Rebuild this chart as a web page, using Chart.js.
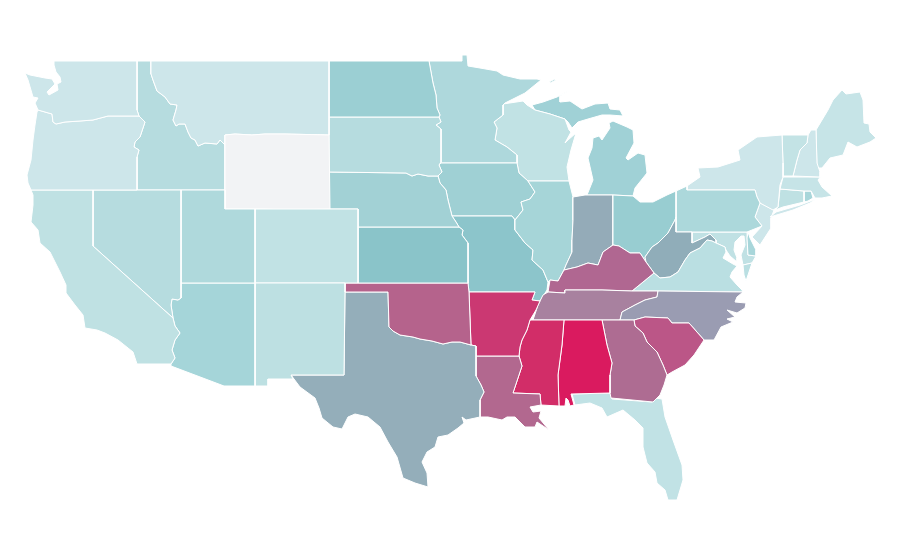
<!DOCTYPE html>
<html>
<head>
<meta charset="utf-8">
<title>US states</title>
<script src="https://cdn.jsdelivr.net/npm/chart.js@4/dist/chart.umd.min.js"></script>
<style>
  html, body { margin: 0; background: #fff; }
  #wrap { width: 900px; height: 560px; }
</style>
</head>
<body>
<div id="wrap"><canvas id="map"></canvas></div>
<script>
// outlines, in map units (x, y)
const washington = [[54,61],[137,61],[137,110],[139,116],[108,116],[93,120],[80,121],[65,122],[56,124],[53,122],[52,114],[38,110],[35,103],[38,98],[33,97],[28,80],[25,73],[30,75],[40,77],[45,78],[52,79],[55,84],[50,89],[47,92],[49,95],[58,90],[57,84],[61,82],[60,77],[56,72],[54,65]];
const oregon = [[37,112],[38,110],[52,114],[53,122],[56,124],[65,122],[80,121],[93,120],[108,116],[139,116],[145,122],[143,128],[140,137],[135,142],[134,147],[139,150],[137,157],[137,190],[31,190],[28,183],[27,175],[31,160],[33,140],[35,125]];
const california = [[31,190],[93,190],[93,246],[173,318],[175,326],[180,333],[175,340],[172,350],[175,358],[171,364],[137,364],[133,352],[118,340],[105,333],[97,330],[85,328],[83,315],[75,305],[66,293],[66,285],[60,272],[55,262],[50,252],[40,243],[38,230],[31,222],[33,205],[33,195]];
const nevada = [[93,190],[181,190],[181,298],[178,300],[172,299],[171,305],[173,318],[93,246]];
const utah = [[181,190],[225,190],[225,209],[255,209],[255,283],[181,283]];
const arizona = [[181,283],[255,283],[255,386],[224,386],[171,366],[171,364],[175,358],[172,350],[175,340],[180,333],[175,326],[173,318],[171,305],[172,299],[178,300],[181,298]];
const newMexico = [[255,283],[345,283],[345,292],[344,375],[291,375],[293,379],[268,379],[268,386],[255,386]];
const colorado = [[255,209],[329,209],[358,209],[358,283],[255,283]];
const wyoming = [[225,135],[235,134],[252,135],[265,134],[285,134],[329,135],[330,209],[285,210],[265,209],[225,209]];
const montana = [[151,61],[329,61],[329,135],[285,134],[265,134],[252,135],[235,134],[225,135],[225,145],[220,140],[217,144],[205,143],[198,146],[195,140],[191,138],[188,132],[185,124],[179,124],[176,126],[173,120],[176,110],[177,105],[170,104],[165,97],[157,91],[153,80],[151,74]];
const idaho = [[137,61],[151,61],[151,74],[153,80],[157,91],[165,97],[170,104],[177,105],[176,110],[173,120],[176,126],[179,124],[185,124],[188,132],[191,138],[195,140],[198,146],[205,143],[217,144],[220,140],[225,145],[225,190],[137,190],[137,157],[139,150],[134,147],[135,142],[140,137],[143,128],[145,122],[139,116],[137,110]];
const northDakota = [[329,61],[429,61],[431,72],[433,83],[436,95],[437,108],[440,115],[439,117],[329,117]];
const southDakota = [[329,117],[439,117],[441,122],[436,125],[441,129],[441,162],[439,165],[442,172],[438,176],[428,176],[418,174],[412,176],[406,173],[329,172]];
const nebraska = [[329,172],[406,173],[412,176],[418,174],[428,176],[438,176],[440,183],[446,190],[448,200],[452,216],[456,222],[459,227],[358,227],[358,209],[329,209]];
const kansas = [[358,227],[459,227],[463,230],[462,235],[468,243],[468,283],[358,283]];
const oklahoma = [[345,283],[468,283],[469,292],[471,345],[460,342],[452,342],[443,344],[432,341],[420,339],[413,337],[400,335],[393,331],[389,327],[388,292],[345,292]];
const texas = [[345,292],[388,292],[389,327],[393,331],[400,335],[413,337],[420,339],[432,341],[443,344],[452,342],[460,342],[471,345],[476,346],[476,376],[481,385],[484,392],[480,400],[480,417],[466,420],[462,417],[464,423],[458,428],[448,435],[438,437],[435,447],[427,452],[422,462],[427,473],[428,487],[415,483],[403,478],[397,457],[388,442],[380,427],[368,417],[355,414],[348,417],[342,429],[333,427],[322,418],[319,408],[315,398],[300,387],[291,375],[344,375]];
const arkansas = [[469,292],[535,292],[532,300],[540,301],[536,310],[530,320],[527,330],[522,340],[520,347],[519,356],[476,356],[476,346],[471,345]];
const louisiana = [[476,356],[519,356],[522,366],[518,378],[513,393],[540,394],[541,405],[530,407],[533,412],[541,411],[539,418],[549,430],[537,422],[535,427],[525,427],[515,417],[507,417],[502,420],[488,417],[480,417],[480,400],[484,392],[481,385],[476,376]];
const mississippi = [[533,320],[564,320],[562,345],[558,375],[559,406],[541,405],[540,394],[513,393],[518,378],[522,366],[519,356],[520,347],[522,340],[527,330],[530,320]];
const alabama = [[564,320],[602,320],[607,345],[612,363],[610,375],[610,393],[571,394],[574,405],[570,406],[568,400],[566,398],[565,406],[559,406],[558,375],[562,345]];
const georgia = [[602,320],[634,320],[635,326],[643,333],[647,342],[657,352],[663,365],[667,375],[664,385],[660,395],[653,402],[611,398],[610,393],[610,375],[612,363],[607,345]];
const southCarolina = [[634,320],[645,317],[668,318],[672,323],[689,323],[704,340],[694,355],[685,365],[672,372],[667,375],[663,365],[657,352],[647,342],[643,333],[635,326]];
const northCarolina = [[658,291],[743,292],[737,297],[735,302],[746,303],[745,308],[737,313],[727,310],[735,317],[727,319],[733,322],[721,327],[714,340],[704,340],[689,323],[672,323],[668,318],[645,317],[634,320],[620,320],[622,312],[635,305],[645,300],[657,297]];
const tennessee = [[565,290],[602,290],[632,291],[658,291],[657,297],[645,300],[635,305],[622,312],[620,320],[602,320],[564,320],[533,320],[538,305],[543,295],[548,292],[565,293]];
const kentucky = [[548,292],[550,280],[558,281],[564,270],[577,267],[588,263],[598,265],[603,252],[613,245],[619,246],[630,253],[640,253],[646,262],[654,273],[643,282],[632,291],[602,290],[565,290],[565,293]];
const virginia = [[654,273],[660,278],[670,277],[678,272],[685,260],[690,253],[700,248],[707,240],[712,241],[716,243],[725,247],[726,252],[723,258],[733,264],[737,266],[732,272],[730,277],[737,285],[742,290],[743,292],[658,291],[632,291],[643,282]];
const virginiaShore = [[743,265],[752,263],[746,281],[744,275]];
const westVirginia = [[676,217],[676,232],[692,232],[692,243],[705,237],[710,234],[716,240],[716,243],[712,241],[707,240],[700,248],[690,253],[685,260],[678,272],[670,277],[660,278],[654,273],[646,262],[645,257],[652,247],[658,243],[668,233],[675,220]];
const ohio = [[613,195],[633,196],[640,202],[653,202],[667,195],[676,191],[676,217],[675,220],[668,233],[658,243],[652,247],[645,257],[646,262],[640,253],[630,253],[619,246],[613,245]];
const indiana = [[573,197],[585,195],[613,195],[613,245],[603,252],[598,265],[588,263],[577,267],[564,270],[566,265],[572,252],[572,240],[573,220]];
const illinois = [[528,181],[569,181],[573,197],[573,220],[572,240],[572,252],[566,265],[564,270],[558,281],[550,280],[548,282],[543,270],[532,260],[533,250],[525,243],[515,230],[515,220],[523,210],[521,202],[530,199],[535,192]];
const missouri = [[452,216],[512,216],[515,220],[515,230],[525,243],[533,250],[532,260],[543,270],[548,282],[547,290],[540,301],[532,300],[535,292],[469,292],[468,283],[468,243],[462,235],[463,230],[459,227],[456,222]];
const iowa = [[441,163],[517,163],[519,173],[528,181],[535,192],[530,199],[521,202],[523,210],[515,220],[512,216],[452,216],[448,200],[446,190],[440,183],[438,176],[442,172],[439,165]];
const minnesota = [[429,61],[462,61],[462,55],[467,55],[468,66],[480,68],[497,71],[503,75],[520,79],[537,79],[541,80],[525,93],[505,103],[503,105],[503,115],[494,122],[497,128],[495,140],[507,147],[517,155],[517,163],[441,163],[441,129],[436,125],[441,122],[439,117],[440,115],[437,108],[436,95],[433,83],[431,72]];
const wisconsin = [[503,104],[523,101],[527,105],[535,110],[550,114],[565,119],[569,130],[571,132],[565,143],[568,140],[576,133],[571,150],[567,167],[569,181],[528,181],[519,173],[517,163],[517,155],[507,147],[495,140],[497,128],[494,122],[503,115]];
const michiganUpper = [[532,105],[543,102],[557,97],[570,90],[560,96],[560,102],[570,101],[582,109],[595,104],[608,103],[610,109],[620,110],[623,116],[610,115],[602,115],[588,119],[578,122],[572,128],[568,122],[565,119],[550,114],[535,110]];
const michiganIsland = [[549,82],[555,79],[556,80],[550,83]];
const michiganLower = [[613,121],[627,127],[633,130],[634,143],[626,158],[628,160],[638,153],[645,155],[647,173],[635,188],[633,196],[613,195],[587,195],[593,180],[588,158],[592,148],[593,138],[599,136],[602,140],[610,128],[609,123]];
const pennsylvania = [[676,191],[687,186],[687,190],[755,190],[757,197],[760,203],[755,217],[762,226],[747,232],[676,232]];
const newYork = [[687,186],[700,177],[698,168],[718,167],[740,160],[738,150],[757,137],[782,135],[783,163],[783,177],[780,185],[778,207],[773,210],[760,203],[757,197],[755,190],[687,190]];
const longIsland = [[770,217],[776,212],[800,205],[816,199],[810,203],[793,210]];
const newJersey = [[760,203],[774,210],[771,218],[771,228],[760,245],[752,237],[762,226],[755,217]];
const delaware = [[748,232],[750,238],[756,250],[756,256],[748,255],[747,238]];
const maryland = [[692,232],[747,232],[748,255],[756,256],[752,263],[743,265],[741,255],[745,245],[744,236],[741,236],[735,242],[734,250],[737,258],[737,262],[730,256],[726,250],[725,247],[716,243],[716,240],[710,234],[705,237],[692,243]];
const vermont = [[782,135],[808,135],[807,143],[800,150],[797,160],[793,176],[783,176],[783,163]];
const newHampshire = [[808,135],[811,130],[816,130],[817,163],[820,172],[820,177],[793,176],[797,160],[800,150],[807,143]];
const maine = [[816,130],[828,110],[833,100],[842,90],[846,94],[860,92],[863,100],[864,123],[869,124],[870,132],[876,138],[870,142],[857,147],[848,142],[843,155],[830,158],[822,168],[817,168]];
const massachusetts = [[783,177],[820,177],[822,175],[818,180],[822,187],[832,196],[822,198],[815,198],[811,191],[804,191],[780,189]];
const connecticut = [[780,189],[804,191],[804,202],[783,207],[775,210],[778,207]];
const rhodeIsland = [[804,191],[811,191],[813,198],[808,201],[804,202]];
const florida = [[572,394],[610,393],[612,399],[652,402],[655,398],[662,399],[665,417],[673,440],[682,465],[683,480],[677,500],[668,500],[665,490],[657,483],[655,472],[647,463],[643,447],[643,428],[635,420],[623,410],[607,417],[602,408],[590,403],[575,405]];

const outlines = [washington, oregon, california, nevada, utah, arizona, newMexico, colorado, wyoming, montana, idaho, northDakota, southDakota, nebraska, kansas, oklahoma, texas, arkansas, louisiana, mississippi, alabama, georgia, southCarolina, northCarolina, tennessee, kentucky, virginia, virginiaShore, westVirginia, ohio, indiana, illinois, missouri, iowa, minnesota, wisconsin, michiganUpper, michiganIsland, michiganLower, pennsylvania, newYork, longIsland, newJersey, delaware, maryland, vermont, newHampshire, maine, massachusetts, connecticut, rhodeIsland, florida];
const stateNames = ["Washington", "Oregon", "California", "Nevada", "Utah", "Arizona", "New Mexico", "Colorado", "Wyoming", "Montana", "Idaho", "North Dakota", "South Dakota", "Nebraska", "Kansas", "Oklahoma", "Texas", "Arkansas", "Louisiana", "Mississippi", "Alabama", "Georgia", "South Carolina", "North Carolina", "Tennessee", "Kentucky", "Virginia", "Virginia", "West Virginia", "Ohio", "Indiana", "Illinois", "Missouri", "Iowa", "Minnesota", "Wisconsin", "Michigan", "Michigan", "Michigan", "Pennsylvania", "New York", "New York", "New Jersey", "Delaware", "Maryland", "Vermont", "New Hampshire", "Maine", "Massachusetts", "Connecticut", "Rhode Island", "Florida"];
const stateColors = ["#cde6ea", "#cde6ea", "#bfe1e3", "#b6dcdf", "#afd9dc", "#a5d5d9", "#bde0e2", "#c1e2e4", "#f2f3f5", "#cde6ea", "#b6dcdf", "#9bcfd3", "#b6dcdf", "#a2d1d5", "#8ac4c9", "#b5638c", "#94aeba", "#cb3872", "#b2688f", "#d22d68", "#da1a5f", "#ae6c92", "#bb5687", "#9a9cb2", "#a8819f", "#b06791", "#badfe2", "#badfe2", "#90adb9", "#98cdd1", "#94abb8", "#a6d5d8", "#8cc5cb", "#9fd0d4", "#aed8dc", "#c1e2e4", "#a0d1d6", "#a0d1d6", "#a0d1d6", "#acd8db", "#cde6ea", "#cde6ea", "#cde6ea", "#a8d6da", "#c0e1e4", "#c3e3e5", "#cde6ea", "#c6e4e7", "#c6e4e7", "#bfe1e3", "#a8d6da", "#c1e2e5"];

const datasets = outlines.map((outline, i) => ({
  label: stateNames[i],
  data: outline.concat([outline[0]]).map((p) => ({ x: p[0], y: p[1] })),
  showLine: true,
  fill: "shape",
  tension: 0,
  backgroundColor: stateColors[i],
  borderColor: "#ffffff",
  borderWidth: 1,
  pointRadius: 0,
  pointHoverRadius: 0,
}));

new Chart(document.getElementById("map"), {
  type: "scatter",
  data: { datasets },
  options: {
    responsive: true,
    maintainAspectRatio: false,
    animation: false,
    layout: { padding: 0 },
    plugins: { legend: { display: false }, tooltip: { enabled: false } },
    scales: {
      x: { display: false, min: 0, max: 900 },
      y: { display: false, min: 0, max: 560, reverse: true },
    },
  },
});
</script>
</body>
</html>
